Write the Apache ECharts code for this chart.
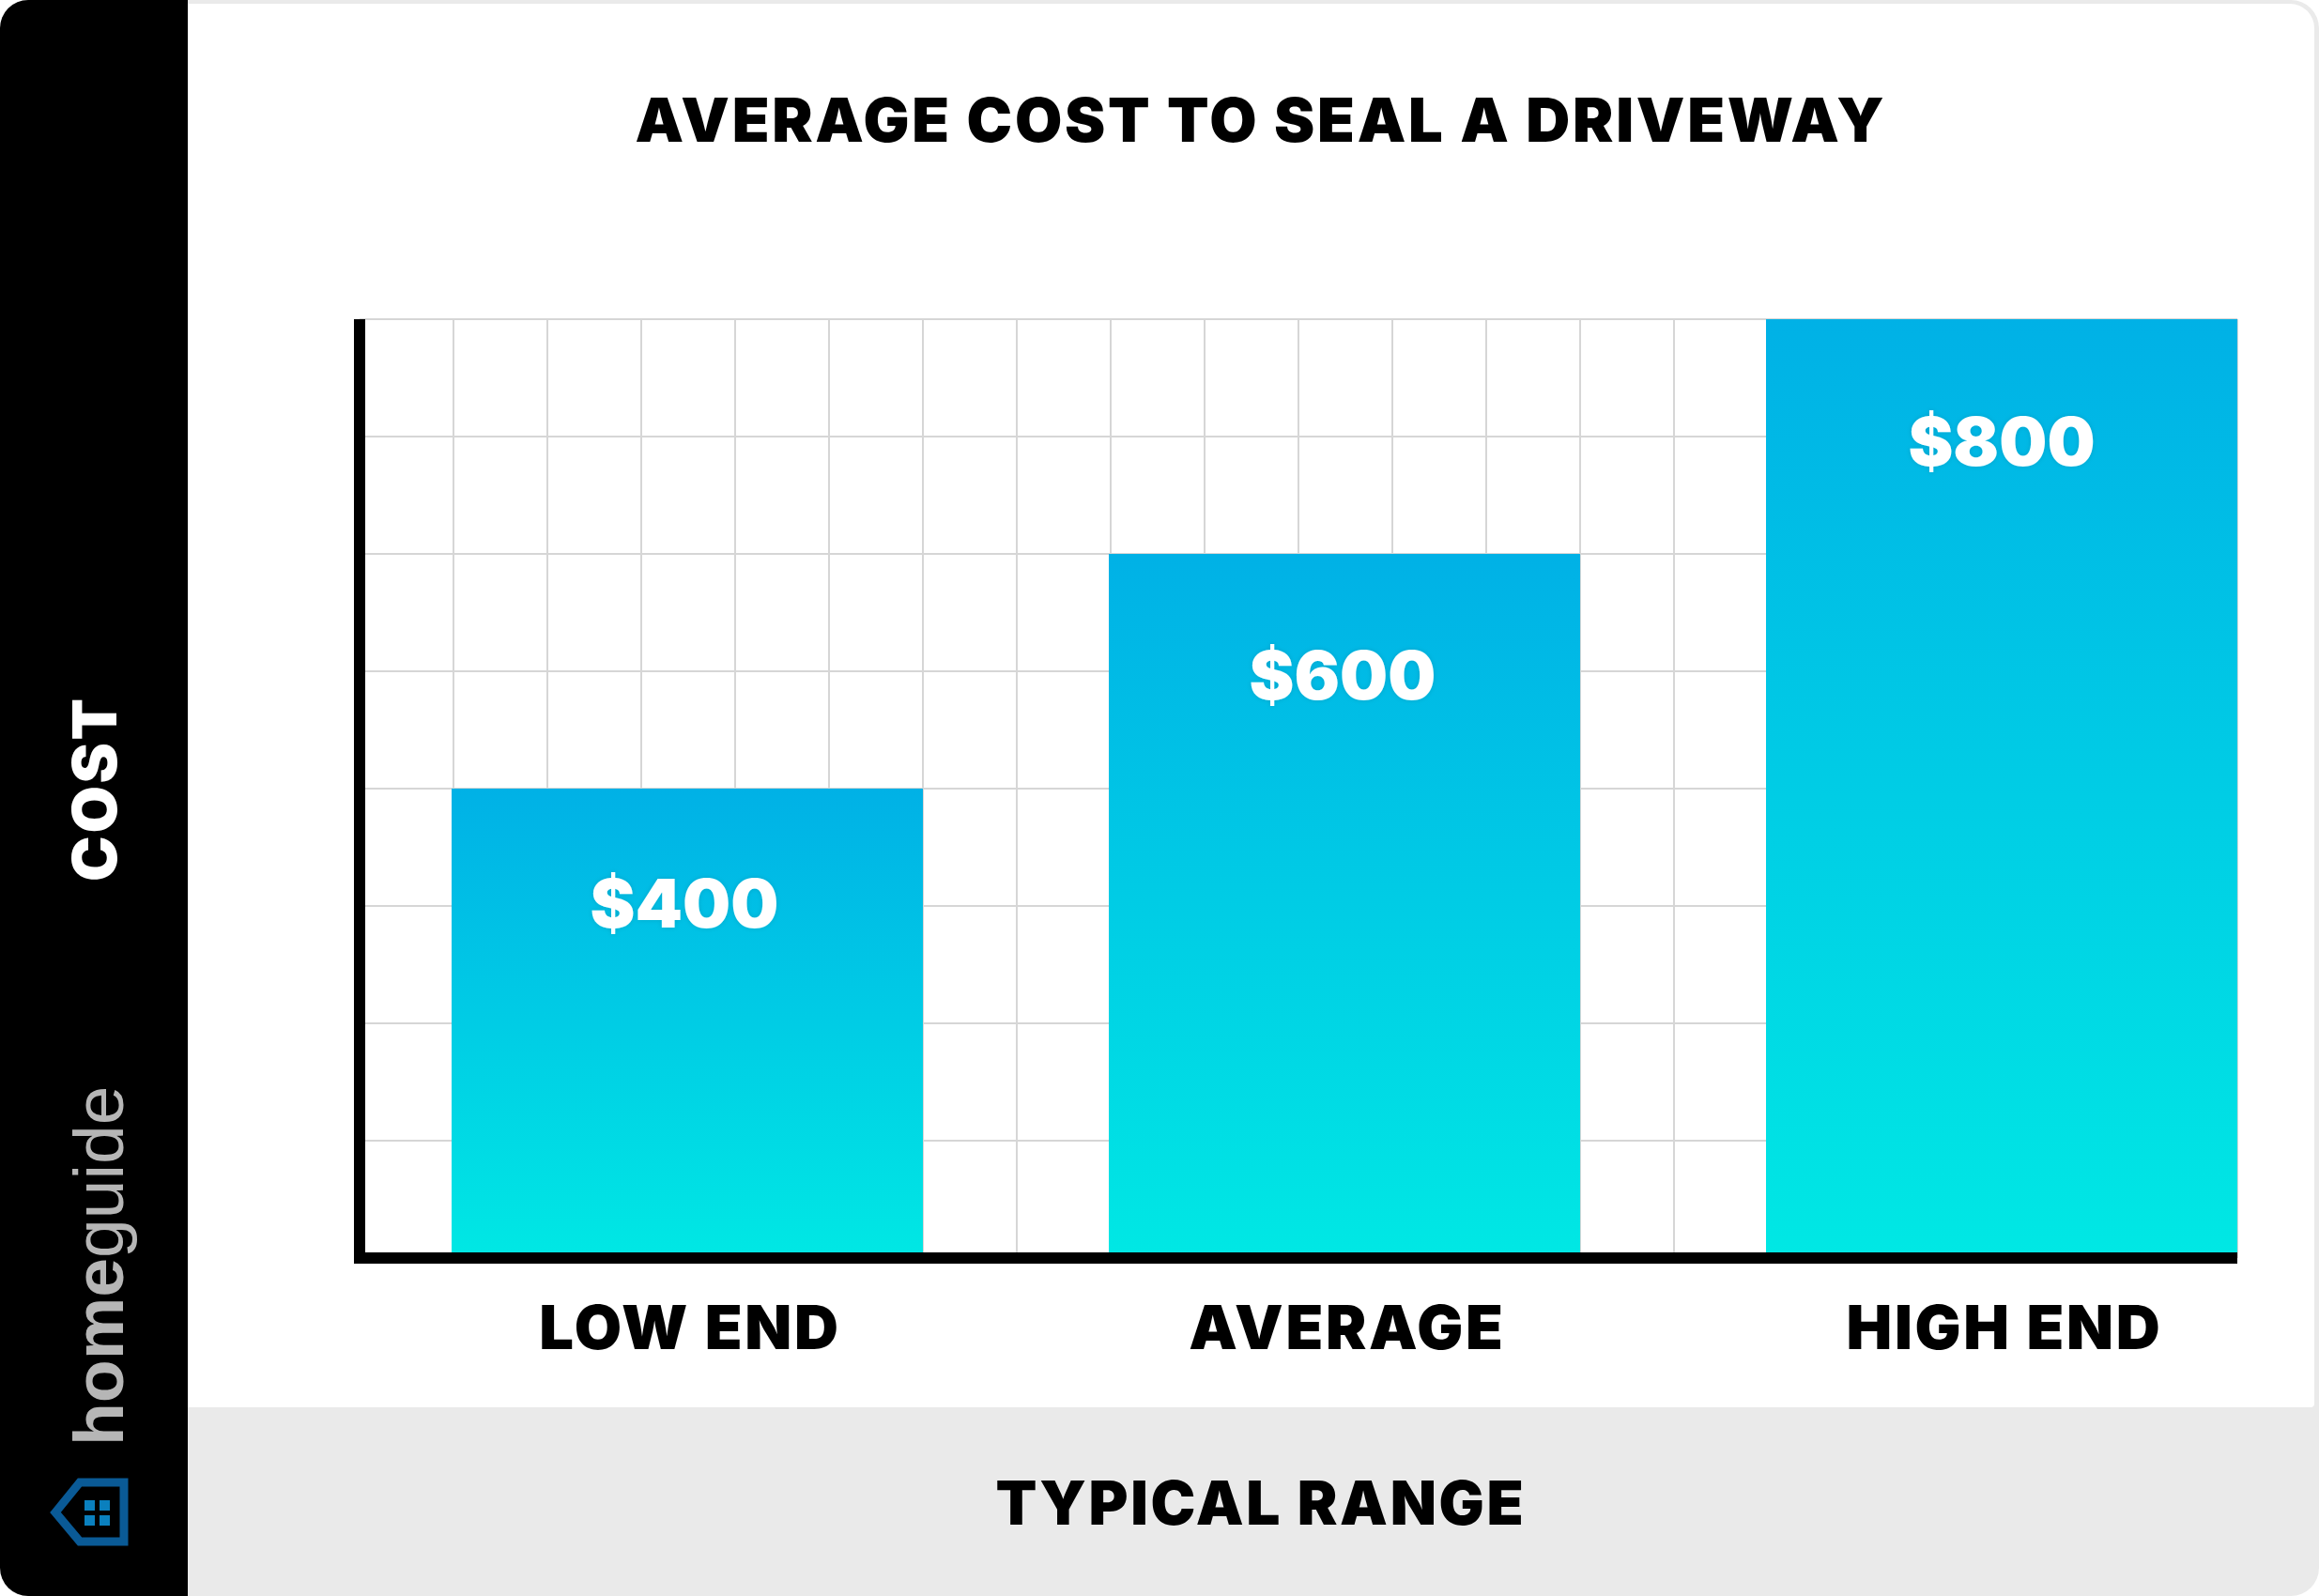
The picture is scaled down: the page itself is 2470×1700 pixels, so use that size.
<!DOCTYPE html>
<html>
<head>
<meta charset="utf-8">
<style>
html,body{margin:0;padding:0;background:#fff}
#c{width:2470px;height:1700px}
#c svg text{letter-spacing:.042em}
#c svg text[style*="72px"],#c svg text[style*="Liberation"]{letter-spacing:0}
</style>
<script src="https://cdn.jsdelivr.net/npm/echarts@6/dist/echarts.min.js"></script>
</head>
<body>
<div id="c"></div>
<script>
var chartTitle = 'AVERAGE COST TO SEAL A DRIVEWAY';
var xTitle = 'TYPICAL RANGE';
var yTitle = 'COST';
var categories = ['LOW END', 'AVERAGE', 'HIGH END'];
var costs = [400, 600, 800];
var costMax = 800;
var costStep = 100;
var gridColumns = 20;

var FONT = 'Inter';
var labelNudges = [[-3, -3], [-2, 4], [0, 5]];

var chart = echarts.init(document.getElementById('c'), null, {renderer: 'svg', width: 2470, height: 1700});

var plot = {left: 383, top: 340, width: 2000, height: 1000};
var hidden = {show: false};

chart.setOption({
  animation: false,
  backgroundColor: '#ffffff',
  title: [
    {text: chartTitle, left: 1338, top: 122, textAlign: 'center', textVerticalAlign: 'middle',
     textStyle: {fontFamily: FONT, fontWeight: 900, fontSize: 65, color: '#000'}},
    {text: xTitle, left: 1338, top: 1595, textAlign: 'center', textVerticalAlign: 'middle',
     textStyle: {fontFamily: FONT, fontWeight: 900, fontSize: 64, color: '#000'}}
  ],
  grid: [
    {left: 382, top: 340, width: 2100, height: 1000, outerBoundsMode: 'none'},
    {left: plot.left, top: plot.top, width: plot.width, height: plot.height, outerBoundsMode: 'none'},
    {left: plot.left, top: plot.top, width: plot.width, height: plot.height, outerBoundsMode: 'none'}
  ],
  xAxis: [
    {type: 'category', gridIndex: 0, data: categories, z: 4,
     axisLine: hidden, axisTick: hidden, splitLine: hidden,
     axisLabel: {margin: 41, padding: [0, 0, 0, 6], fontFamily: FONT, fontWeight: 900, fontSize: 65, color: '#000'}},
    {type: 'value', gridIndex: 1, min: 0, max: gridColumns, interval: 1, z: 0,
     axisLine: hidden, axisTick: hidden, axisLabel: hidden,
     splitLine: {show: true, lineStyle: {color: '#d6d6d6', width: 2}}},
    {type: 'value', gridIndex: 2, min: 0, max: gridColumns, interval: gridColumns, z: 5,
     axisTick: hidden, axisLabel: hidden, splitLine: hidden,
     axisLine: {show: true, onZero: false, lineStyle: {color: '#000', width: 12, cap: 'butt'}}}
  ],
  yAxis: [
    {type: 'value', gridIndex: 0, min: 0, max: costMax, interval: costStep, show: false},
    {type: 'value', gridIndex: 1, min: 0, max: costMax, interval: costStep, z: 0,
     axisLine: hidden, axisTick: hidden, axisLabel: hidden,
     splitLine: {show: true, lineStyle: {color: '#d6d6d6', width: 2}}},
    {type: 'value', gridIndex: 2, min: 0, max: costMax, interval: costMax, z: 5,
     axisTick: hidden, axisLabel: hidden, splitLine: hidden,
     axisLine: {show: true, onZero: false, lineStyle: {color: '#000', width: 12, cap: 'butt'}},
     name: yTitle, nameLocation: 'middle', nameRotate: 90, nameGap: 250,
     nameTextStyle: {fontFamily: FONT, fontWeight: 900, fontSize: 65, color: '#fff'}}
  ],
  series: [{
    type: 'bar', xAxisIndex: 0, yAxisIndex: 0, z: 2, barWidth: 502,
    data: costs.map(function (v, i) {
      return {value: v, label: {offset: labelNudges[i]}};
    }),
    itemStyle: {color: new echarts.graphic.LinearGradient(0, 0, 0, 1, [
      {offset: 0, color: '#00b1e6'}, {offset: 1, color: '#00e8e4'}
    ])},
    label: {show: true, position: 'insideTop', distance: 88,
      formatter: function (p) { return '$' + p.value; },
      fontFamily: FONT, fontWeight: 900, fontSize: 72, color: '#fff',
      textShadowColor: 'rgba(0,0,0,0.12)', textShadowBlur: 5}
  }],
  graphic: [
    {type: 'rect', z: -30, silent: true, shape: {x: 100, y: 0, width: 2370, height: 1700, r: 30}, style: {fill: '#eaeaea'}},
    {type: 'rect', z: -29, silent: true, shape: {x: 200, y: 4, width: 2265, height: 1495, r: [0, 26, 4, 0]}, style: {fill: '#fff'}},
    {type: 'rect', z: -28, silent: true, shape: {x: 0, y: 0, width: 200, height: 1700, r: [30, 0, 0, 30]}, style: {fill: '#000'}},
    {type: 'rect', z: 20, silent: true, shape: {x: 377, y: 1334, width: 12, height: 12}, style: {fill: '#000'}},
    {type: 'text', z: 20, silent: true, x: 142, y: 1540, rotation: Math.PI / 2,
     style: {text: '{a|home}{b|guide}', align: 'left', verticalAlign: 'bottom',
       rich: {
         a: {fontFamily: 'Liberation Sans', fontWeight: 700, fontSize: 75, fill: '#b6b6b6', color: '#b6b6b6'},
         b: {fontFamily: 'Liberation Sans', fontWeight: 400, fontSize: 75, fill: '#b6b6b6', color: '#b6b6b6'}
       }}},
    {type: 'polygon', z: 20, silent: true,
     shape: {points: [[59, 1611], [85, 1579], [132, 1579], [132, 1642], [85, 1642]]},
     style: {fill: 'none', stroke: '#0a5a96', lineWidth: 9, lineJoin: 'miter'}},
    {type: 'rect', z: 20, silent: true, shape: {x: 90, y: 1598, width: 11, height: 11}, style: {fill: '#0a80be'}},
    {type: 'rect', z: 20, silent: true, shape: {x: 106, y: 1598, width: 11, height: 11}, style: {fill: '#0a80be'}},
    {type: 'rect', z: 20, silent: true, shape: {x: 90, y: 1614, width: 11, height: 11}, style: {fill: '#0a80be'}},
    {type: 'rect', z: 20, silent: true, shape: {x: 106, y: 1614, width: 11, height: 11}, style: {fill: '#0a80be'}}
  ]
});
</script>
</body>
</html>
